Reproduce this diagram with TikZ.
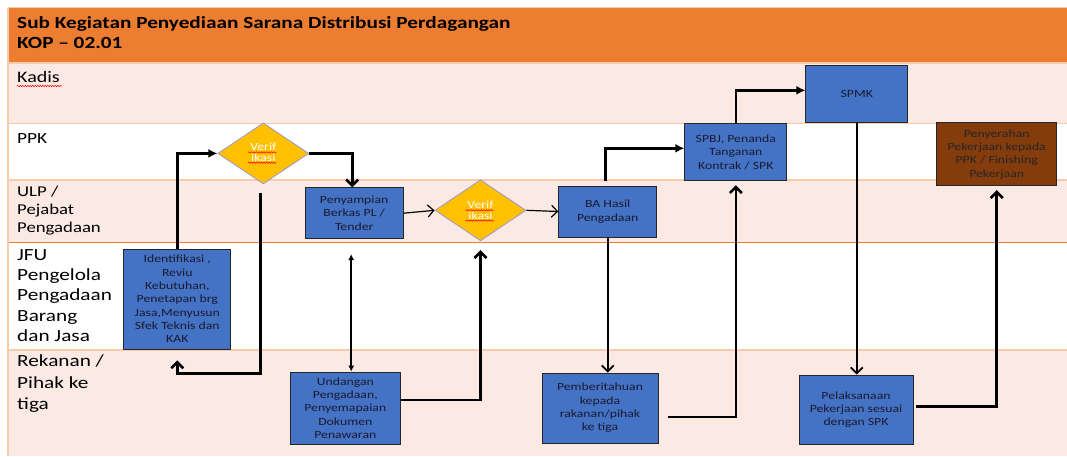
\documentclass[tikz,border=0pt]{standalone}
\usepackage{fontspec}
\setmainfont[FakeStretch=1.25]{Carlito}
\usetikzlibrary{arrows.meta, shapes.geometric, decorations.pathmorphing}
\definecolor{hdr}{HTML}{ED7D31}
\definecolor{lanepink}{HTML}{FBE9E4}
\definecolor{peach}{HTML}{F8CBAD}
\definecolor{boxblue}{HTML}{4472C4}
\definecolor{boxtext}{HTML}{1A1A30}
\definecolor{gold}{HTML}{FFC000}
\definecolor{brown}{HTML}{843C0C}
\newcommand{\boxtxt}{\fontsize{11}{13.3}\selectfont}

\begin{document}
\begin{tikzpicture}[x=1pt, y=-1pt,
  box/.style={draw=black!85, line width=0.8pt, fill=boxblue, text=boxtext,
              align=center, inner sep=0pt, font=\boxtxt},
  decide/.style={diamond, draw=black!45!blue!40, line width=0.8pt, fill=gold,
                 text=white, align=center, inner sep=0pt,
                 font=\fontsize{11}{10.5}\selectfont},
  lane/.style={anchor=north west, align=left, inner sep=0pt},
  flow/.style={line width=2.6pt},
  mid/.style={line width=1.8pt},
  lite/.style={line width=1.2pt},
  barb/.style={-{Straight Barb[length=6pt,width=12pt]}},
  tri/.style={-{Latex[length=9pt,width=9pt]}},
  squig/.style={red, line width=0.5pt, decorate,
                decoration={snake, amplitude=0.7pt, segment length=2.5pt}}]
  \useasboundingbox (0,0) rectangle (1067,456);

  % swimlanes
  \fill [white] (0,0) rectangle (1067,456);
  \fill [hdr] (8,7.5) rectangle (1067,63);
  \fill [lanepink] (8,63) rectangle (1067,123.5);
  \fill [lanepink] (8,180) rectangle (1067,242.5);
  \fill [lanepink] (8,350) rectangle (1067,456);
  \foreach \y in {7.5,63,123.5,180,350}
    \draw [peach, line width=1.5pt] (8,\y) -- (1067,\y);
  \draw [hdr, line width=1.5pt] (8,242.5) -- (1067,242.5);
  \draw [peach, line width=2pt] (8,7.5) -- (8,456);

  \node (title) [lane, font=\bfseries\fontsize{17}{20.5}\selectfont] at (17,16)
    {Sub Kegiatan Penyediaan Sarana Distribusi Perdagangan\\KOP – 02.01};
  \node (kadis) [lane, font=\fontsize{16}{19}\selectfont] at (17,71) {Kadis};
  \node (ppk) [lane, font=\fontsize{15.5}{18}\selectfont] at (17,133.3) {PPK};
  \node (ulp) [lane, font=\fontsize{15}{18.3}\selectfont] at (17,185.5)
    {ULP /\\Pejabat\\Pengadaan};
  \node (jfu) [lane, font=\fontsize{17}{20.4}\selectfont] at (17,249)
    {JFU\\Pengelola\\Pengadaan\\Barang\\dan Jasa};
  \node (rek) [lane, font=\fontsize{17}{21.5}\selectfont] at (17,354.7)
    {Rekanan /\\Pihak ke\\tiga};
  \draw [squig] (17,86) -- (62,86);

  % steps
  \node (ID) [box, minimum width=107, minimum height=100] at (177.3,299)
    {Identifikasi ,\\Reviu\\Kebutuhan,\\Penetapan brg\\Jasa,Menyusun\\Sfek Teknis dan\\KAK};
  \node (V1) [decide, minimum width=91, minimum height=61] at (263.3,153.4)
    {Verif\\ikasi\rule[-2pt]{0pt}{0pt}};
  \node (PB) [box, minimum width=98, minimum height=51] at (354.2,213.2)
    {Penyampian\\Berkas PL /\\Tender};
  \node (V2) [decide, minimum width=91, minimum height=61] at (480.5,210.3) {Verif\\ikasi};
  \node (BA) [box, minimum width=98, minimum height=51] at (607.7,211.5)
    {BA Hasil\\Pengadaan};
  \node (SPBJ) [box, minimum width=102, minimum height=57] at (735.8,152.3)
    {SPBJ, Penanda\\Tanganan\\Kontrak / SPK};
  \node (SPMK) [box, minimum width=102, minimum height=57] at (856.8,94.3) {SPMK};
  \node (FIN) [box, fill=brown, text=black!85, minimum width=120, minimum height=63]
    at (996.7,154.3) {Penyerahan\\Pekerjaan kepada\\PPK / Finishing\\Pekerjaan};
  \node (UND) [box, minimum width=110, minimum height=72] at (345.3,408)
    {Undangan\\Pengadaan,\\Penyemapaian\\Dokumen\\Penawaran};
  \node (PEM) [box, minimum width=116, minimum height=70] at (600,408)
    {Pemberitahuan\\kepada\\rakanan/pihak\\ke tiga};
  \node (PEL) [box, minimum width=114, minimum height=69] at (856,409.5)
    {Pelaksanaan\\Pekerjaan sesuai\\dengan SPK};
  \draw [squig] ([xshift=-15pt,yshift=1pt]V1.center) -- ++(28,0);
  \draw [squig] ([xshift=-15pt,yshift=-9.3pt]V1.center) -- ++(28,0);
  \draw [squig] ([xshift=-15pt,yshift=0pt]V2.center) -- ++(28,0);
  \draw [squig] ([xshift=-15pt,yshift=-10.3pt]V2.center) -- ++(28,0);

  % flow
  \draw [flow, tri] (ID.north) |- (V1.west);
  \draw [flow, barb] (V1.east) -| ([xshift=-2pt]PB.north);
  \draw [flow, barb] ([xshift=-3pt,yshift=-9pt]V1.south) -- ++(0,180)
    -| ([yshift=-11pt]ID.south);
  \draw [lite, barb] (PB.east) -- (V2.west);
  \draw [lite, barb] (V2.east) -- (BA.west);
  \draw [mid, {Latex[length=6pt,width=6pt]}-{Latex[length=6pt,width=6pt]}]
    ([xshift=-3pt,yshift=-15pt]PB.south) coordinate (p) -- (UND.north -| p);
  \draw [flow, barb] ([yshift=8pt]UND.east) -| ([yshift=-9pt]V2.south);
  \draw [flow, tri] ([xshift=-2pt,yshift=5pt]BA.north) |- ([yshift=4pt]SPBJ.west);
  \draw [flow, tri] (SPBJ.north) |- ([yshift=4pt]SPMK.west);
  \draw [mid, barb] (BA.south) -- (BA.south |- PEM.north);
  \draw [flow, barb] ([xshift=10pt,yshift=-9pt]PEM.east) -| ([yshift=-4pt]SPBJ.south);
  \draw [mid, barb] (SPMK.south) -- (SPMK.south |- PEL.north);
  \draw [flow, barb] ([xshift=3pt,yshift=3pt]PEL.east) -| ([yshift=-4pt]FIN.south);
\end{tikzpicture}
\end{document}
